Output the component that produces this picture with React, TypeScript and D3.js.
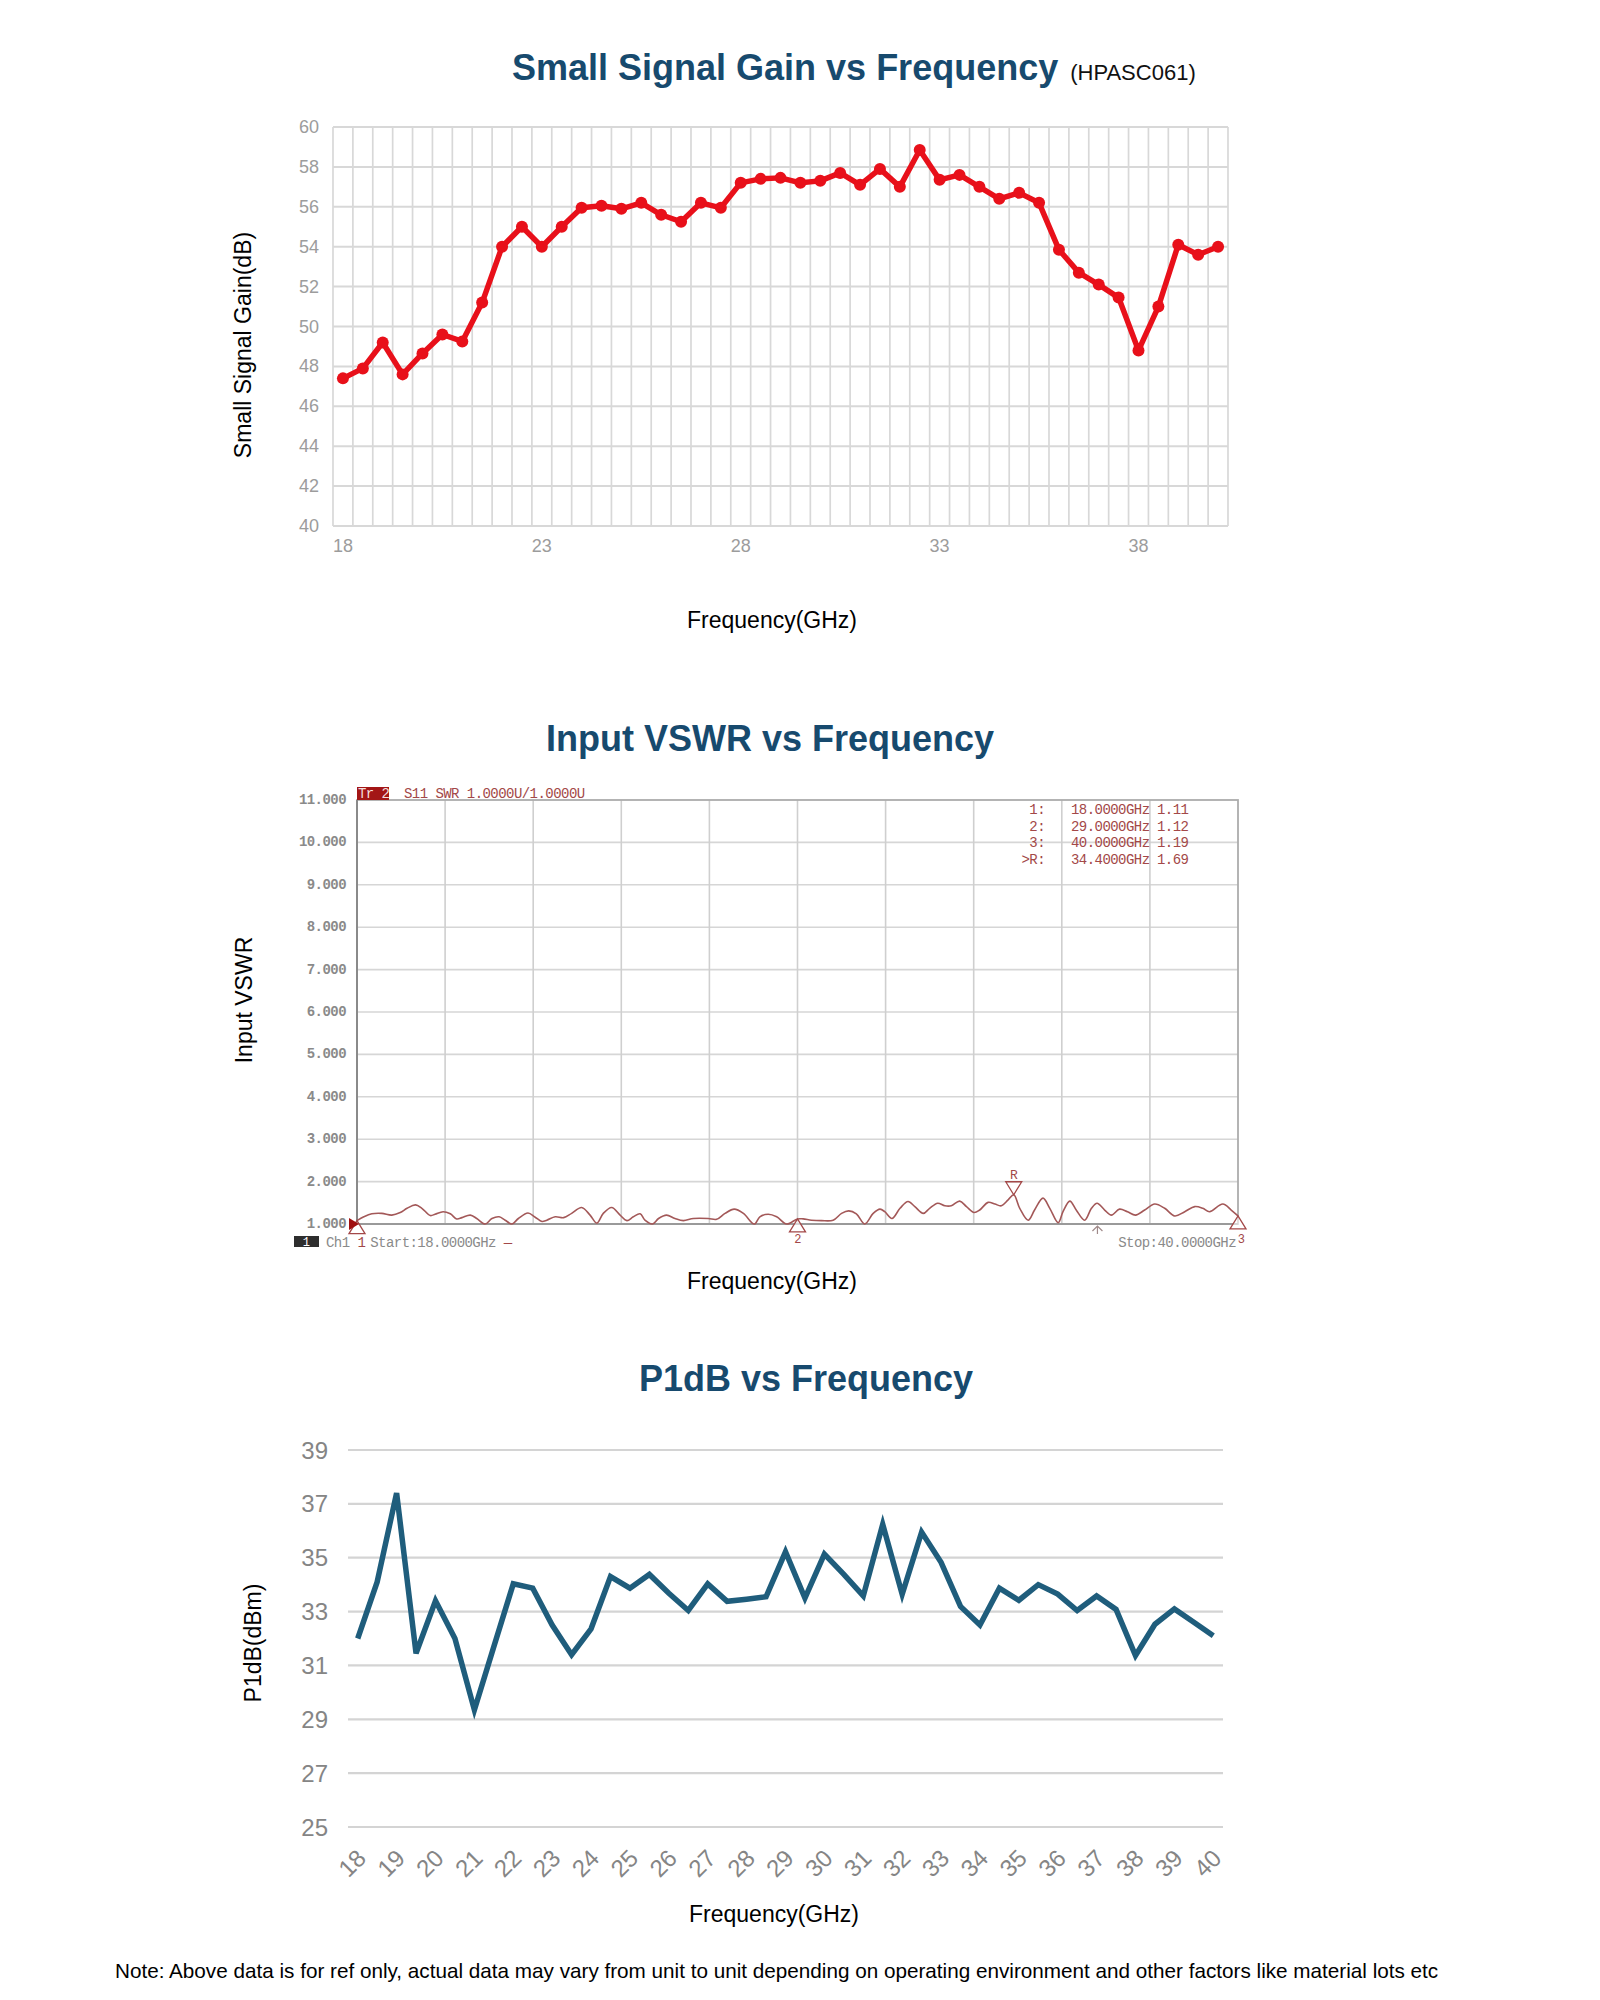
import React, { useEffect, useRef } from "react";
import * as d3 from "d3";

// frequency categories (GHz) used by the gain and P1dB curves
const freqSteps = [
  18, 18.5, 19, 19.5, 20, 20.5, 21, 21.5, 22, 22.5, 23, 23.5, 24, 24.5, 25,
  25.5, 26, 26.5, 27, 27.5, 28, 28.5, 29, 29.5, 30, 30.5, 31, 31.5, 32, 32.5,
  33, 33.5, 34, 34.5, 35, 35.5, 36, 36.5, 37, 37.5, 38, 38.5, 39, 39.5, 40,
];

const gainDb = [
  47.4, 47.9, 49.2, 47.6, 48.65, 49.6, 49.25, 51.2, 54.0, 55.0, 54.0, 55.0,
  55.95, 56.05, 55.9, 56.2, 55.6, 55.25, 56.2, 55.95, 57.2, 57.4, 57.45, 57.2,
  57.3, 57.7, 57.1, 57.9, 57.0, 58.85, 57.35, 57.6, 57.0, 56.4, 56.7, 56.2,
  53.85, 52.7, 52.1, 51.45, 48.8, 51.0, 54.1, 53.6, 54.0,
];
const gainTicksX = [18, 23, 28, 33, 38];
const gainTicksY = [40, 42, 44, 46, 48, 50, 52, 54, 56, 58, 60];

// S11 trace
const vswrFreq = [
  18.0, 18.17, 18.37, 18.62, 18.87, 19.08, 19.25, 19.46, 19.62, 19.83, 19.95,
  20.15, 20.33, 20.49, 20.62, 20.83, 20.99, 21.2, 21.37, 21.55, 21.7, 21.87,
  22.03, 22.27, 22.45, 22.62, 22.74, 22.95, 23.16, 23.36, 23.61, 23.82, 23.99,
  24.15, 24.36, 24.57, 24.74, 24.9, 25.07, 25.19, 25.38, 25.53, 25.73, 25.94,
  26.15, 26.4, 26.77, 26.98, 27.19, 27.42, 27.65, 27.92, 28.06, 28.27, 28.48,
  28.73, 29.0, 29.14, 29.35, 29.6, 29.89, 30.1, 30.28, 30.47, 30.68, 30.89,
  31.06, 31.18, 31.36, 31.56, 31.76, 31.93, 32.14, 32.3, 32.5, 32.68, 32.84,
  33.05, 33.22, 33.41, 33.55, 33.76, 33.93, 34.09, 34.26, 34.4, 34.55, 34.76,
  34.92, 35.13, 35.3, 35.51, 35.63, 35.8, 35.96, 36.17, 36.34, 36.48, 36.67,
  36.84, 37.04, 37.24, 37.44, 37.67, 37.92, 38.17, 38.42, 38.67, 38.92, 39.12,
  39.29, 39.62, 39.83, 40.0,
];
const vswrValue = [
  1.08, 1.17, 1.24, 1.25, 1.21, 1.27, 1.37, 1.45, 1.37, 1.2, 1.23, 1.29, 1.24,
  1.12, 1.15, 1.21, 1.13, 1.0, 1.13, 1.17, 1.09, 1.0, 1.13, 1.26, 1.16, 1.06,
  1.09, 1.17, 1.15, 1.25, 1.39, 1.21, 1.02, 1.25, 1.39, 1.21, 1.08, 1.17, 1.24,
  1.09, 1.0, 1.13, 1.21, 1.13, 1.08, 1.13, 1.13, 1.11, 1.25, 1.35, 1.25, 1.0,
  1.17, 1.23, 1.17, 1.0, 1.12, 1.12, 1.09, 1.08, 1.09, 1.25, 1.31, 1.24, 1.0,
  1.25, 1.35, 1.29, 1.13, 1.37, 1.53, 1.41, 1.25, 1.37, 1.49, 1.43, 1.43, 1.54,
  1.41, 1.27, 1.33, 1.51, 1.47, 1.43, 1.57, 1.69, 1.37, 1.09, 1.33, 1.61, 1.37,
  1.03, 1.29, 1.54, 1.33, 1.09, 1.37, 1.49, 1.33, 1.21, 1.35, 1.29, 1.21, 1.33,
  1.47, 1.37, 1.19, 1.29, 1.41, 1.37, 1.29, 1.47, 1.33, 1.19,
];
const vswrTicksY = [1, 2, 3, 4, 5, 6, 7, 8, 9, 10, 11];
const vswrDivisions = [18, 20.2, 22.4, 24.6, 26.8, 29, 31.2, 33.4, 35.6, 37.8, 40];
const markerPoints = [
  { name: "1", freq: 18.0, value: 1.08 },
  { name: "2", freq: 29.0, value: 1.12 },
  { name: "3", freq: 40.0, value: 1.19 },
];
const refMarker = { name: "R", freq: 34.4, value: 1.69 };
const markerTable = [
  ["1:", "18.0000GHz", "1.11"],
  ["2:", "29.0000GHz", "1.12"],
  ["3:", "40.0000GHz", "1.19"],
  [">R:", "34.4000GHz", "1.69"],
];

const p1dbValues = [
  32.0, 34.1, 37.4, 31.45, 33.4, 32.0, 29.35, 31.7, 34.03, 33.87, 32.5, 31.4,
  32.36, 34.3, 33.87, 34.38, 33.68, 33.04, 34.03, 33.38, 33.46, 33.55, 35.22,
  33.5, 35.13, 34.38, 33.58, 36.24, 33.64, 35.95, 34.83, 33.19, 32.5, 33.87,
  33.42, 34.0, 33.65, 33.04, 33.58, 33.08, 31.37, 32.53, 33.1, 32.6, 32.1,
];
const p1dbTicksY = [25, 27, 29, 31, 33, 35, 37, 39];
const p1dbTicksX = [
  18, 19, 20, 21, 22, 23, 24, 25, 26, 27, 28, 29, 30, 31, 32, 33, 34, 35, 36,
  37, 38, 39, 40,
];

const noteText =
  "Note: Above data is for ref only, actual data may vary from unit to unit depending on operating environment and other factors like material lots etc";

const SANS = "'Liberation Sans', Arial, sans-serif";
const MONO = "'Liberation Mono', 'Courier New', monospace";
const TITLE = "#174a6e";

function axisTitle(svg: any, text: string, x: number, y: number, rotate: boolean) {
  svg
    .append("text")
    .attr("transform", `translate(${x},${y})${rotate ? " rotate(-90)" : ""}`)
    .attr("text-anchor", "middle")
    .attr("dominant-baseline", "central")
    .style("font-family", SANS)
    .style("font-size", "23px")
    .style("fill", "#000")
    .text(text);
}

// analyzer-style label: monospace, a bit taller than the advance suggests
function mono(sel: any, size = 14) {
  return sel
    .style("font-family", MONO)
    .style("font-size", `${size}px`)
    .style("letter-spacing", "-0.55px");
}

function drawGain(svg: any) {
  const x = d3.scaleLinear().domain([17.75, 40.25]).range([333, 1228]);
  const y = d3.scaleLinear().domain([40, 60]).range([526, 127]);
  const g = svg.append("g");

  // grid lines sit between the half-GHz categories
  const bounds = freqSteps.map((f) => f - 0.25).concat([40.25]);
  g.selectAll(".vg")
    .data(bounds)
    .enter()
    .append("line")
    .attr("x1", (d: number) => x(d))
    .attr("x2", (d: number) => x(d))
    .attr("y1", y(60))
    .attr("y2", y(40))
    .attr("stroke", "#d8d8d8")
    .attr("stroke-width", 1.7);
  g.selectAll(".hg")
    .data(gainTicksY)
    .enter()
    .append("line")
    .attr("x1", x(17.75))
    .attr("x2", x(40.25))
    .attr("y1", (d: number) => y(d))
    .attr("y2", (d: number) => y(d))
    .attr("stroke", "#d8d8d8")
    .attr("stroke-width", 2);

  g.selectAll(".yl")
    .data(gainTicksY)
    .enter()
    .append("text")
    .attr("x", 319)
    .attr("y", (d: number) => y(d))
    .attr("text-anchor", "end")
    .attr("dominant-baseline", "central")
    .style("font-family", SANS)
    .style("font-size", "18px")
    .style("fill", "#9c9c9c")
    .text((d: number) => d);
  g.selectAll(".xl")
    .data(gainTicksX)
    .enter()
    .append("text")
    .attr("x", (d: number) => x(d))
    .attr("y", 552)
    .attr("text-anchor", "middle")
    .style("font-family", SANS)
    .style("font-size", "18px")
    .style("fill", "#9c9c9c")
    .text((d: number) => d);

  const line = d3
    .line<number>()
    .x((d, i) => x(freqSteps[i]))
    .y((d) => y(d));
  g.append("path")
    .datum(gainDb)
    .attr("d", line)
    .attr("fill", "none")
    .attr("stroke", "#e8101a")
    .attr("stroke-width", 5.5)
    .attr("stroke-linejoin", "round");
  g.selectAll(".pt")
    .data(gainDb)
    .enter()
    .append("circle")
    .attr("cx", (d: number, i: number) => x(freqSteps[i]))
    .attr("cy", (d: number) => y(d))
    .attr("r", 6)
    .attr("fill", "#e8101a");

  // Title
  const t = g
    .append("text")
    .attr("x", 512)
    .attr("y", 80)
    .style("font-family", SANS);
  t.append("tspan")
    .style("font-size", "36px")
    .style("font-weight", "bold")
    .style("fill", TITLE)
    .text("Small Signal Gain vs Frequency");
  t.append("tspan")
    .attr("dx", 12)
    .style("font-size", "22px")
    .style("fill", "#111")
    .text("(HPASC061)");

  axisTitle(g, "Small Signal Gain(dB)", 243, 345, true);
  axisTitle(g, "Frequency(GHz)", 772, 620, false);
}

function drawVswr(svg: any) {
  const x = d3.scaleLinear().domain([18, 40]).range([357, 1238]);
  const y = d3.scaleLinear().domain([1, 11]).range([1224, 800]);
  const g = svg.append("g");
  const red = "#a34848";

  g.selectAll(".hg")
    .data(vswrTicksY.slice(1, -1))
    .enter()
    .append("line")
    .attr("x1", x(18))
    .attr("x2", x(40))
    .attr("y1", (d: number) => y(d))
    .attr("y2", (d: number) => y(d))
    .attr("stroke", "#d6d6d6")
    .attr("stroke-width", 1.6);
  g.selectAll(".vg")
    .data(vswrDivisions.slice(1, -1))
    .enter()
    .append("line")
    .attr("x1", (d: number) => x(d))
    .attr("x2", (d: number) => x(d))
    .attr("y1", y(11))
    .attr("y2", y(1))
    .attr("stroke", "#cfcfcf")
    .attr("stroke-width", 1.6);
  // frame
  g.append("rect")
    .attr("x", x(18))
    .attr("y", y(11))
    .attr("width", x(40) - x(18))
    .attr("height", y(1) - y(11))
    .attr("fill", "none")
    .attr("stroke", "#acacac")
    .attr("stroke-width", 1.8);
  g.append("line")
    .attr("x1", x(18))
    .attr("x2", x(18))
    .attr("y1", y(11))
    .attr("y2", y(1))
    .attr("stroke", "#8a8a8a")
    .attr("stroke-width", 2);
  g.append("line")
    .attr("x1", x(18))
    .attr("x2", x(40))
    .attr("y1", y(1))
    .attr("y2", y(1))
    .attr("stroke", "#9a9a9a")
    .attr("stroke-width", 2);

  mono(
    g.selectAll(".yl")
      .data(vswrTicksY)
      .enter()
      .append("text")
      .attr("x", 346)
      .attr("y", (d: number) => y(d))
      .attr("text-anchor", "end")
      .attr("dominant-baseline", "central")
      .style("font-weight", "bold")
      .style("fill", "#8a8a8a")
      .text((d: number) => d3.format(".3f")(d)),
    14
  );

  const line = d3
    .line<number>()
    .x((d, i) => x(vswrFreq[i]))
    .y((d) => y(d))
    .curve(d3.curveCatmullRom.alpha(0.5));
  g.append("path")
    .datum(vswrValue)
    .attr("d", line)
    .attr("fill", "none")
    .attr("stroke", "#a35858")
    .attr("stroke-width", 1.6);

  // header: trace tag and format
  g.append("rect")
    .attr("x", 357)
    .attr("y", 787)
    .attr("width", 32)
    .attr("height", 13)
    .attr("fill", "#a31616");
  mono(
    g.append("text").attr("x", 358).attr("y", 798).style("fill", "#f3dede").text("Tr 2")
  );
  mono(
    g.append("text")
      .attr("x", 404)
      .attr("y", 798)
      .style("fill", red)
      .text("S11 SWR 1.0000U/1.0000U")
  );

  // marker readout table
  const rows = g
    .selectAll(".mrow")
    .data(markerTable)
    .enter()
    .append("g")
    .attr("transform", (d: string[], i: number) => `translate(0,${814 + i * 16.5})`);
  rows
    .append("text")
    .attr("x", 1045)
    .attr("text-anchor", "end")
    .text((d: string[]) => d[0]);
  rows
    .append("text")
    .attr("x", 1071)
    .text((d: string[]) => d[1]);
  rows
    .append("text")
    .attr("x", 1157)
    .text((d: string[]) => d[2]);
  mono(rows.selectAll("text")).style("fill", red);

  // markers 1..3 (upward triangles under the trace)
  const mk = g
    .selectAll(".mk")
    .data(markerPoints)
    .enter()
    .append("g")
    .attr("transform", (d: any) => `translate(${x(d.freq)},${y(d.value)})`);
  mk.append("path")
    .attr("d", "M0,0 L8,13 L-8,13 Z")
    .attr("fill", "#fff")
    .attr("fill-opacity", 0.6)
    .attr("stroke", red)
    .attr("stroke-width", 1.3);
  mono(
    mk.append("text")
      .attr("x", (d: any) => (d.name === "3" ? 3 : 0))
      .attr("y", (d: any) => (d.name === "3" ? 27 : 24))
      .attr("text-anchor", "middle")
      .style("fill", red)
      .text((d: any) => (d.name === "1" ? "" : d.name)),
    12
  );

  // reference marker
  const rm = g
    .append("g")
    .attr("transform", `translate(${x(refMarker.freq)},${y(refMarker.value)})`);
  rm.append("path")
    .attr("d", "M0,0 L8,-13 L-8,-13 Z")
    .attr("fill", "none")
    .attr("stroke", red)
    .attr("stroke-width", 1.3);
  mono(
    rm.append("text")
      .attr("y", -16)
      .attr("text-anchor", "middle")
      .style("fill", red)
      .text(refMarker.name),
    13
  );

  // reference level arrow on the left edge
  g.append("path")
    .attr("d", `M${x(18) - 8},${y(1) - 6} L${x(18) + 2},${y(1)} L${x(18) - 8},${y(1) + 6} Z`)
    .attr("fill", "#a01010");
  // small caret under the axis
  const cx = x(36.49);
  g.append("path")
    .attr("d", `M${cx - 5},${y(1) + 7} L${cx},${y(1) + 2} L${cx + 5},${y(1) + 7} M${cx},${y(1) + 2} L${cx},${y(1) + 10}`)
    .attr("fill", "none")
    .attr("stroke", "#a08a8a")
    .attr("stroke-width", 1.2);

  // footer line of the analyzer
  g.append("rect")
    .attr("x", 294)
    .attr("y", 1236)
    .attr("width", 25)
    .attr("height", 11)
    .attr("fill", "#2e2e2e");
  mono(
    g.append("text")
      .attr("x", 306)
      .attr("y", 1246)
      .attr("text-anchor", "middle")
      .style("fill", "#fff")
      .text("1"),
    12
  );
  const foot = mono(
    g.append("text").attr("x", 326).attr("y", 1247).style("fill", "#8a8a8a")
  );
  foot.append("tspan").text("Ch1 ");
  foot.append("tspan").style("fill", red).text("1");
  foot.append("tspan").attr("dx", 5).text("Start:18.0000GHz ");
  foot.append("tspan").style("fill", red).text("—");
  mono(
    g.append("text")
      .attr("x", 1236)
      .attr("y", 1247)
      .attr("text-anchor", "end")
      .style("fill", "#8a8a8a")
      .text("Stop:40.0000GHz")
  );

  g.append("text")
    .attr("x", 770)
    .attr("y", 751)
    .attr("text-anchor", "middle")
    .style("font-family", SANS)
    .style("font-size", "36px")
    .style("font-weight", "bold")
    .style("fill", TITLE)
    .text("Input VSWR vs Frequency");

  axisTitle(g, "Input VSWR", 244, 1000, true);
  axisTitle(g, "Frequency(GHz)", 772, 1281, false);
}

function drawP1db(svg: any) {
  const x = d3.scaleLinear().domain([17.75, 40.25]).range([348, 1223]);
  const y = d3.scaleLinear().domain([25, 39]).range([1827, 1450]);
  const g = svg.append("g");

  g.selectAll(".hg")
    .data(p1dbTicksY)
    .enter()
    .append("line")
    .attr("x1", x(17.75))
    .attr("x2", x(40.25))
    .attr("y1", (d: number) => y(d))
    .attr("y2", (d: number) => y(d))
    .attr("stroke", "#d4d4d4")
    .attr("stroke-width", 2.2);
  g.selectAll(".yl")
    .data(p1dbTicksY)
    .enter()
    .append("text")
    .attr("x", 328)
    .attr("y", (d: number) => y(d))
    .attr("text-anchor", "end")
    .attr("dominant-baseline", "central")
    .style("font-family", SANS)
    .style("font-size", "24px")
    .style("fill", "#858585")
    .text((d: number) => d);
  g.selectAll(".xl")
    .data(p1dbTicksX)
    .enter()
    .append("text")
    .attr("transform", (d: number) => `translate(${x(d) - 3},${1847}) rotate(-45)`)
    .attr("text-anchor", "end")
    .attr("dy", "0.75em")
    .style("font-family", SANS)
    .style("font-size", "24px")
    .style("fill", "#858585")
    .text((d: number) => d);

  const line = d3
    .line<number>()
    .x((d, i) => x(freqSteps[i]))
    .y((d) => y(d));
  g.append("path")
    .datum(p1dbValues)
    .attr("d", line)
    .attr("fill", "none")
    .attr("stroke", "#1f5d7c")
    .attr("stroke-width", 5.5)
    .attr("stroke-linejoin", "miter");

  g.append("text")
    .attr("x", 806)
    .attr("y", 1391)
    .attr("text-anchor", "middle")
    .style("font-family", SANS)
    .style("font-size", "36px")
    .style("font-weight", "bold")
    .style("fill", TITLE)
    .text("P1dB vs Frequency");

  axisTitle(g, "P1dB(dBm)", 253, 1643, true);
  axisTitle(g, "Frequency(GHz)", 774, 1914, false);
}

export default function App() {
  const ref = useRef<SVGSVGElement>(null);

  useEffect(() => {
    const svg = d3.select(ref.current);
    svg.selectAll("*").remove();
    svg.append("rect").attr("width", 1600).attr("height", 2000).attr("fill", "#fff");
    drawGain(svg);
    drawVswr(svg);
    drawP1db(svg);
    svg
      .append("text")
      .attr("x", 115)
      .attr("y", 1978)
      .style("font-family", SANS)
      .style("font-size", "20.7px")
      .style("fill", "#000")
      .text(noteText);
  }, []);

  return (
    <svg
      ref={ref}
      width={1600}
      height={2000}
      style={{ position: "absolute", left: 0, top: 0 }}
    />
  );
}
